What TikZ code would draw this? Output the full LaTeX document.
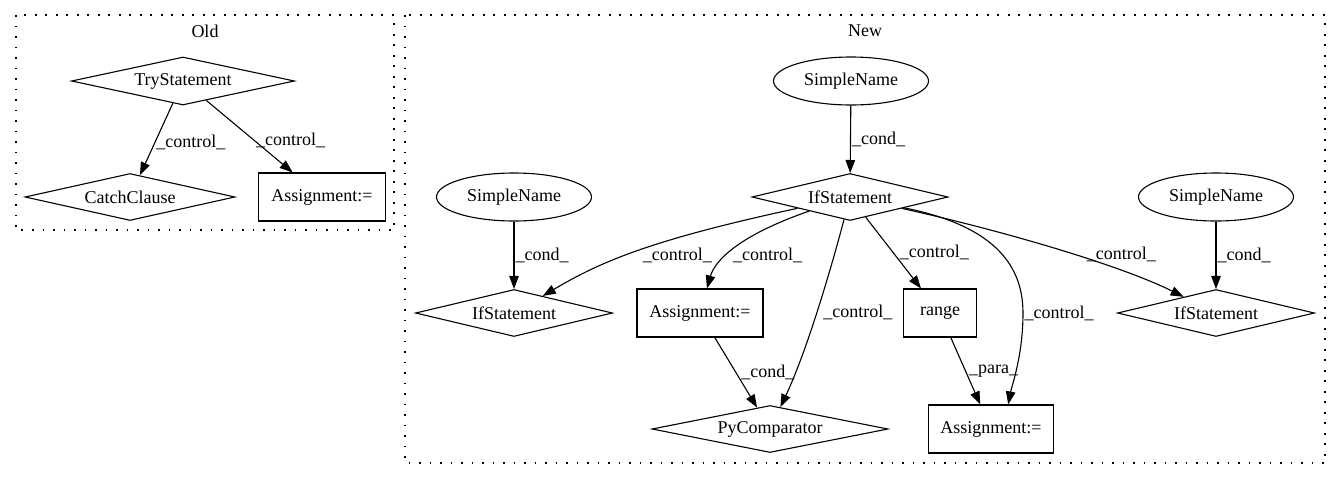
\documentclass[tikz,border=0pt]{standalone}
\usepackage{fontspec}
\setmainfont{Liberation Serif}
\usetikzlibrary{shapes.geometric,arrows.meta}

\begin{document}
\begin{tikzpicture}[
  x=1pt,
	y=-1pt,
	every node/.style={
		text centered,
		font=\fontsize{18}{21}\selectfont
	},
	edge/.style={
		line width=1.1pt,
		-{Triangle[length=13pt,width=9.5pt]}
	},
	cluster/.style={
		line width=1.4pt,
		dash pattern=on 1.6pt off 8.9pt
	},
	diam/.style={
		diamond,
		aspect=4,
		draw,
		line width=1.1pt,
		inner sep=1pt,
		minimum height=47pt
	},
	box/.style={
		rectangle,
		draw,
		line width=1.1pt,
		minimum height=48pt
	},
	oval/.style={
		ellipse,
		draw,
		line width=1.1pt,
		minimum width=155pt,
		minimum height=48pt
	},
	lbl/.style={
		inner sep=1pt
	}
]
  \useasboundingbox (0,0) rectangle (1341,480);

  % old version
  \draw[cluster] (16,15) rectangle (394,230);
  \node (OldTitle) at (205,31) {Old};
  \node (TryStmt) [diam, minimum width=223pt, minimum height=48pt] at (183,81) {TryStatement};
  \node (Catch) [diam, minimum width=210pt] at (130,197) {CatchClause};
  \node (AssignOld) [box, minimum width=127pt] at (322,197) {Assignment:=};

  \draw[edge] (TryStmt) -- node[lbl, pos=0.55, anchor=west] {\_control\_} (Catch);
  \draw[edge] (TryStmt) -- node[lbl, pos=0.56, anchor=west] {\_control\_} (AssignOld);

  % new version
  \draw[cluster] (405,15) rectangle (1325,463);
  \node (NewTitle) at (865,31) {New};
  \node (NameTop) [oval] at (851,81) {SimpleName};
  \node (IfMain) [diam, minimum width=196pt] at (850,197) {IfStatement};
  \node (NameLeft) [oval] at (514,197) {SimpleName};
  \node (IfLeft) [diam, minimum width=197pt] at (514,313) {IfStatement};
  \node (NameRight) [oval] at (1216,197) {SimpleName};
  \node (IfRight) [diam, minimum width=197pt] at (1216,313) {IfStatement};
  \node (AssignMid) [box, minimum width=126pt] at (700,313) {Assignment:=};
  \node (Range) [box, minimum width=73pt] at (940,313) {range};
  \node (PyComp) [diam, minimum width=236pt] at (770,429) {PyComparator};
  \node (AssignLow) [box, minimum width=125pt] at (991,429) {Assignment:=};

  \draw[edge] (NameTop) -- node[lbl, anchor=west] {\_cond\_} (IfMain);
  \draw[edge] (NameLeft) -- node[lbl, anchor=west] {\_cond\_} (IfLeft);
  \draw[edge] (NameRight) -- node[lbl, anchor=west] {\_cond\_} (IfRight);

  \draw[edge] (IfMain) .. controls (650,240) and (600,262) .. node[lbl, pos=0.5, anchor=west, xshift=5pt, yshift=-4pt] {\_control\_} (IfLeft);
  \draw[edge] (IfMain) .. controls (740,235) and (715,260) .. node[lbl, pos=0.6, anchor=west, xshift=5pt] {\_control\_} (AssignMid);
  \draw[edge] (IfMain) .. controls (828,280) and (805,355) .. node[lbl, pos=0.48, anchor=west, xshift=5pt] {\_control\_} (PyComp);
  \draw[edge] (IfMain) -- node[lbl, anchor=west, xshift=5pt] {\_control\_} (Range);
  \draw[edge] (IfMain) .. controls (990,225) and (1023,262) .. (1023,313) node[lbl, anchor=west] {\_control\_} .. controls (1023,355) and (1012,385) .. (AssignLow.55);
  \draw[edge] (IfMain) .. controls (1000,230) and (1120,265) .. node[lbl, pos=0.6, anchor=west, yshift=4pt] {\_control\_} (IfRight);

  \draw[edge] (Range) -- node[lbl, anchor=west, xshift=2pt] {\_para\_} (AssignLow);
  \draw[edge] (AssignMid) -- node[lbl, anchor=west, xshift=4pt] {\_cond\_} (PyComp);
\end{tikzpicture}
\end{document}
